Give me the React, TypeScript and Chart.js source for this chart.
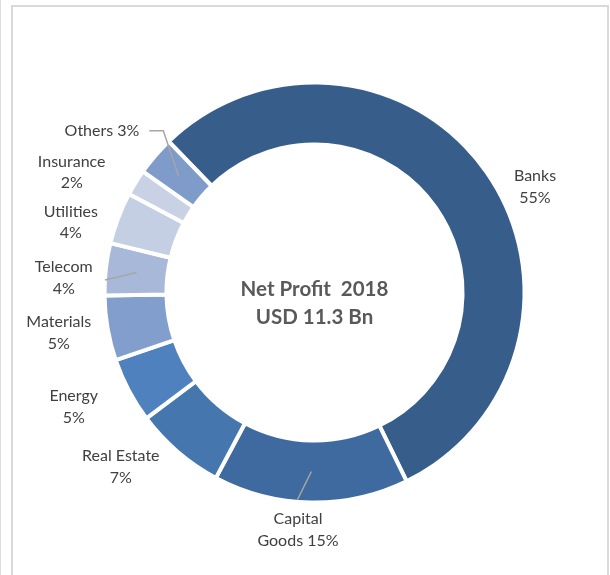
import React, { useEffect, useRef } from "react";
import { Chart, registerables } from "chart.js";

Chart.register(...registerables);

const categories = ["Banks", "Capital Goods", "Real Estate", "Energy", "Materials", "Telecom", "Utilities", "Insurance", "Others"];
const shares = [55, 15, 7, 5, 5, 4, 4, 2, 3];
const colors = ["#375D8A", "#3F6A9F", "#4676AE", "#4F81BF", "#819ECC", "#A8B8D8", "#C5CFE3", "#C9D2E5", "#7F9BCA"];
const centerLines = ["Net Profit  2018", "USD 11.3 Bn"];

// how each label is broken into lines: "split" = name / value, "one" = single line, "capital" = custom
const labelStyle = ["split", "capital", "split", "split", "split", "split", "split", "split", "one"];
// label block centre offsets relative to ring centre (layout only)
const labelOffsets: [number, number][] = [
  [220.5, -105.5],
  [-16.5, 237.2],
  [-193.7, 174.2],
  [-240.8, 114.5],
  [-255.7, 40.5],
  [-250.8, -14.5],
  [-243.7, -70],
  [-242.8, -120.1],
  [-212.5, -161.5],
];
// leader lines: list of points relative to ring centre, last point is at arc mid angle on ring middle
const leaderStarts: Record<number, [number, number][]> = {
  8: [[-165.2, -161.8], [-151.2, -161.8]],
  5: [[-209.5, -12.5]],
  1: [[-17.2, 207.5]],
};

function labelLines(i: number): string[] {
  const name = categories[i];
  const v = shares[i] + "%";
  if (labelStyle[i] === "one") return [name + " " + v];
  if (labelStyle[i] === "capital") {
    const parts = name.split(" ");
    return [parts[0], parts.slice(1).join(" ") + " " + v];
  }
  return [name, v];
}

const FONT = "Lato, 'Open Sans', sans-serif";

const overlay = {
  id: "overlay",
  afterDatasetsDraw(chart: any) {
    const ctx = chart.ctx;
    const meta = chart.getDatasetMeta(0);
    meta.data.forEach((arc: any, i: number) => {
      const pts = leaderStarts[i];
      if (!pts) return;
      const p = arc.getProps(["x", "y", "startAngle", "endAngle", "innerRadius", "outerRadius"], true);
      const mid = (p.startAngle + p.endAngle) / 2;
      const r = (p.innerRadius + p.outerRadius) / 2;
      ctx.save();
      ctx.strokeStyle = "#A6A6A6";
      ctx.lineWidth = 1.5;
      ctx.beginPath();
      pts.forEach(([dx, dy], k) => {
        if (k === 0) ctx.moveTo(p.x + dx, p.y + dy);
        else ctx.lineTo(p.x + dx, p.y + dy);
      });
      ctx.lineTo(p.x + r * Math.cos(mid), p.y + r * Math.sin(mid));
      ctx.stroke();
      ctx.restore();
    });
  },
  afterDraw(chart: any) {
    const ctx = chart.ctx;
    const meta = chart.getDatasetMeta(0);
    const first = meta.data[0].getProps(["x", "y"], true);
    const cx = first.x;
    const cy = first.y;
    ctx.save();
    ctx.textAlign = "center";
    ctx.textBaseline = "middle";
    ctx.fillStyle = "#404040";
    ctx.font = `16px ${FONT}`;
    const lh = 21.5;
    meta.data.forEach((_arc: any, i: number) => {
      const lines = labelLines(i);
      const [ox, oy] = labelOffsets[i];
      const y0 = cy + oy - ((lines.length - 1) * lh) / 2;
      lines.forEach((t, k) => ctx.fillText(t, cx + ox, y0 + k * lh));
    });
    ctx.fillStyle = "#595959";
    ctx.font = `bold 20.5px ${FONT}`;
    ctx.fillText(centerLines[0], cx, cy - 3.5);
    ctx.fillText(centerLines[1], cx, cy + 24.5);
    ctx.restore();
  },
};

export default function App() {
  const ref = useRef<HTMLCanvasElement>(null);
  useEffect(() => {
    if (!ref.current) return;
    const chart = new Chart(ref.current, {
      type: "doughnut",
      data: {
        labels: categories,
        datasets: [
          {
            data: shares,
            backgroundColor: colors,
            borderColor: "#ffffff",
            borderWidth: 4,
          },
        ],
      },
      options: {
        responsive: false,
        animation: false,
        rotation: -44,
        cutout: "70.5%",
        layout: { padding: { left: 102.5, right: 83.5, top: 80.5, bottom: 70.5 } },
        plugins: { legend: { display: false }, tooltip: { enabled: false } },
      },
      plugins: [overlay],
    });
    return () => chart.destroy();
  }, []);
  return (
    <div style={{ position: "absolute", left: 0, top: 0, width: 610, height: 575, overflow: "hidden", background: "#fff" }}>
      <div style={{ position: "absolute", left: 0, top: 0, width: 1, height: 575, background: "#dddddd" }} />
      <div style={{ position: "absolute", left: 11, top: 5, width: 594, height: 600, border: "2px solid #d9d9d9" }} />
      <canvas ref={ref} width={610} height={575} style={{ position: "absolute", left: 0, top: 0 }} />
    </div>
  );
}
